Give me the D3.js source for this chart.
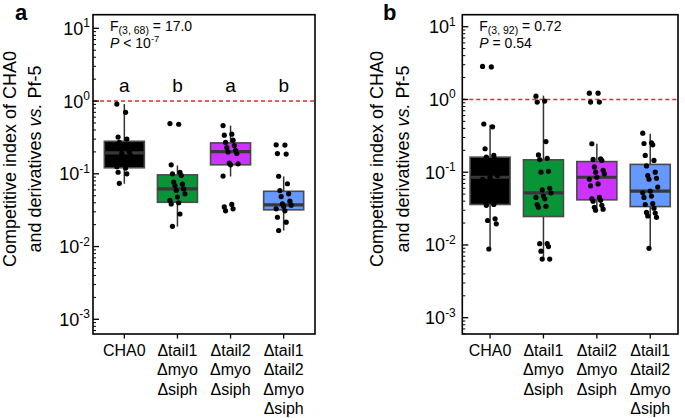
<!DOCTYPE html>
<html><head><meta charset="utf-8">
<script src="https://cdn.jsdelivr.net/npm/d3@7"></script>
<style>body{margin:0;background:#fff} svg{display:block} text{font-family:"Liberation Sans",Arial,Helvetica,sans-serif;fill:#000}</style>
</head><body><svg id="c" width="685" height="418"></svg>
<script>
// ---------- data ----------
const categories = ["CHA0", "Δtail1 Δmyo Δsiph", "Δtail2 Δmyo Δsiph", "Δtail1 Δtail2 Δmyo Δsiph"];
const categoryLines = [["CHA0"], ["Δtail1","Δmyo","Δsiph"], ["Δtail2","Δmyo","Δsiph"], ["Δtail1","Δtail2","Δmyo","Δsiph"]];
const colors = ["#000000", "#0a9438", "#cc33ff", "#6699ff"];
const yTickExponents = [1, 0, -1, -2, -3];
const letterGroupsA = ["a", "b", "a", "b"];

// Panel a points
const a_CHA0 = [0.91,0.70,0.32,0.30,0.27,0.25,0.22,0.20,0.19,0.18,0.17,0.15,0.14,0.125,0.12,0.105,0.10,0.074];
const a_tail1 = [0.49,0.48,0.133,0.105,0.10,0.095,0.077,0.072,0.069,0.062,0.059,0.053,0.048,0.043,0.040,0.0386,0.028,0.019];
const a_tail2 = [0.46,0.35,0.34,0.29,0.27,0.245,0.23,0.21,0.20,0.19,0.14,0.137,0.133,0.093,0.038,0.035,0.033,0.031];
const a_tail12 = [0.25,0.248,0.19,0.187,0.0925,0.073,0.0589,0.053,0.0487,0.042,0.0386,0.037,0.0356,0.033,0.031,0.0253,0.0216,0.0166];
// Panel a box summaries (q1, median, q3, whisker low, whisker high)
const a_q1 = [0.121, 0.0406, 0.133, 0.032];
const a_med = [0.194, 0.062, 0.202, 0.0374];
const a_q3 = [0.28, 0.0967, 0.266, 0.0575];
const a_lo = [0.073, 0.0188, 0.0917, 0.0166];
const a_hi = [0.91, 0.13, 0.46, 0.092];

// Panel b points
const b_CHA0 = [2.84,2.80,0.46,0.42,0.21,0.17,0.161,0.15,0.13,0.12,0.10,0.09,0.085,0.08,0.07,0.06,0.05,0.04,0.036,0.035,0.0229,0.0217,0.0195,0.0088];
const b_tail1 = [1.11,0.95,0.92,0.264,0.173,0.155,0.149,0.103,0.10,0.06,0.057,0.052,0.047,0.045,0.043,0.036,0.034,0.033,0.0104,0.0104,0.0095,0.0082,0.0064,0.0064];
const b_tail2 = [1.22,1.22,0.92,0.92,0.246,0.153,0.15,0.145,0.118,0.106,0.10,0.095,0.085,0.08,0.069,0.065,0.045,0.043,0.041,0.04,0.035,0.033,0.031,0.03];
const b_tail12 = [0.344,0.254,0.248,0.238,0.17,0.145,0.122,0.10,0.09,0.0825,0.08,0.0625,0.055,0.052,0.047,0.045,0.037,0.036,0.032,0.028,0.0275,0.025,0.024,0.009];
const b_q1 = [0.036, 0.0246, 0.0417, 0.0337];
const b_med = [0.0853, 0.052, 0.0853, 0.0548];
const b_q3 = [0.161, 0.148, 0.14, 0.128];
const b_lo = [0.0088, 0.0064, 0.0314, 0.009];
const b_hi = [0.449, 1.13, 0.246, 0.337];

const panels = [
  {label:"a", left:93, right:315, top:14.7, bottom:334, logTop:1.187, logBottom:-3.202, pad:0.59, tickGap:3,
   series:[a_CHA0,a_tail1,a_tail2,a_tail12], q1:a_q1, med:a_med, q3:a_q3, lo:a_lo, hi:a_hi,
   stat1:["F","(3, 68)"," = 17.0"], stat2:["P"," < 10","-7"], letters:letterGroupsA, ylabX:15.5, panelX:15},
  {label:"b", left:462.3, right:678, top:14.7, bottom:334, logTop:1.165, logBottom:-3.224, pad:0.52, tickGap:6.5,
   series:[b_CHA0,b_tail1,b_tail2,b_tail12], q1:b_q1, med:b_med, q3:b_q3, lo:b_lo, hi:b_hi,
   stat1:["F","(3, 92)"," = 0.72"], stat2:["P"," = 0.54",""], letters:null, ylabX:383, panelX:383}
];

const svg = d3.select("#c");
const jit = i => ((i * 7) % 13 - 6) * 1.25;

panels.forEach(p => {
  const g = svg.append("g");
  const y = d3.scaleLog().domain([Math.pow(10,p.logBottom), Math.pow(10,p.logTop)]).range([p.bottom, p.top]);
  const x = d3.scalePoint().domain(categories).range([p.left, p.right]).padding(p.pad);
  const bw = 40;

  // red dashed reference line at 1
  g.append("line").attr("x1", p.left).attr("x2", p.right).attr("y1", y(1)).attr("y2", y(1))
    .attr("stroke", "#e8262a").attr("stroke-width", 1.6).attr("stroke-dasharray", "4,3");

  categories.forEach((c, i) => {
    const cx = x(c);
    g.append("line").attr("x1", cx).attr("x2", cx).attr("y1", y(p.hi[i])).attr("y2", y(p.q3[i]))
      .attr("stroke", "#333").attr("stroke-width", 1.5);
    g.append("line").attr("x1", cx).attr("x2", cx).attr("y1", y(p.q1[i])).attr("y2", y(p.lo[i]))
      .attr("stroke", "#333").attr("stroke-width", 1.5);
    g.append("rect").attr("x", cx - bw/2).attr("width", bw)
      .attr("y", y(p.q3[i])).attr("height", y(p.q1[i]) - y(p.q3[i]))
      .attr("fill", colors[i]).attr("stroke", "#4a4a4a").attr("stroke-width", 1.6);
    g.append("line").attr("x1", cx - bw/2).attr("x2", cx + bw/2).attr("y1", y(p.med[i])).attr("y2", y(p.med[i]))
      .attr("stroke", "#383838").attr("stroke-width", 3.2);
    g.selectAll(null).data(p.series[i]).enter().append("circle")
      .attr("cx", (d, j) => cx + jit(j)).attr("cy", d => y(d)).attr("r", 2.6).attr("fill", "#000");
    if (p.letters) {
      g.append("text").attr("x", cx).attr("y", 91.5).attr("text-anchor", "middle")
        .attr("font-size", 19).text(p.letters[i]);
    }
  });

  // frame
  g.append("rect").attr("x", p.left).attr("y", p.top).attr("width", p.right - p.left).attr("height", p.bottom - p.top)
    .attr("fill", "none").attr("stroke", "#000").attr("stroke-width", 1.6);

  // y ticks (inward)
  const minor = [];
  for (let k = -4; k <= 1; k++) for (let m = 2; m <= 9; m++) {
    const v = m * Math.pow(10, k);
    if (Math.log10(v) > p.logBottom && Math.log10(v) < p.logTop) minor.push(v);
  }
  g.selectAll(null).data(minor).enter().append("line")
    .attr("x1", p.left).attr("x2", p.left + 3).attr("y1", d => y(d)).attr("y2", d => y(d))
    .attr("stroke", "#000").attr("stroke-width", 1);
  yTickExponents.forEach(e => {
    const yy = y(Math.pow(10, e));
    g.append("line").attr("x1", p.left).attr("x2", p.left + 6).attr("y1", yy).attr("y2", yy)
      .attr("stroke", "#000").attr("stroke-width", 1.3);
    const t = g.append("text").attr("x", p.left - p.tickGap).attr("y", yy + 6.5).attr("text-anchor", "end").attr("font-size", 18);
    t.append("tspan").text("10");
    t.append("tspan").attr("dy", -7.5).attr("font-size", 12).text(String(e));
  });

  // x ticks (outward) and labels
  categories.forEach((c, i) => {
    const cx = x(c);
    g.append("line").attr("x1", cx).attr("x2", cx).attr("y1", p.bottom).attr("y2", p.bottom + 4.5)
      .attr("stroke", "#000").attr("stroke-width", 1.3);
    const t = g.append("text").attr("text-anchor", "middle").attr("font-size", 16);
    categoryLines[i].forEach((ln, k) => {
      t.append("tspan").attr("x", cx).attr("y", 355.5 + k * 19.5).text(ln);
    });
  });

  // stats text
  const s1 = g.append("text").attr("x", p.left + 17).attr("y", 30.5).attr("font-size", 14);
  s1.append("tspan").text(p.stat1[0]);
  s1.append("tspan").attr("dy", 3.5).attr("font-size", 10.5).text(p.stat1[1]);
  s1.append("tspan").attr("dy", -3.5).text(p.stat1[2]);
  const s2 = g.append("text").attr("x", p.left + 17).attr("y", 47.5).attr("font-size", 14);
  s2.append("tspan").attr("font-style", "italic").text(p.stat2[0]);
  s2.append("tspan").text(p.stat2[1]);
  if (p.stat2[2]) s2.append("tspan").attr("dy", -5.5).attr("font-size", 9.5).text(p.stat2[2]);

  // y-axis label
  const cy = 159;
  g.append("text").attr("transform", `translate(${p.ylabX},${cy}) rotate(-90)`).attr("text-anchor", "middle")
    .attr("font-size", 18).text("Competitive index of CHA0");
  const l2 = g.append("text").attr("transform", `translate(${p.ylabX + 25.5},${cy}) rotate(-90)`).attr("text-anchor", "middle")
    .attr("font-size", 18);
  l2.append("tspan").text("and derivatives ");
  l2.append("tspan").attr("font-style", "italic").text("vs.");
  l2.append("tspan").text(" Pf-5");

  // panel letter
  g.append("text").attr("x", p.panelX).attr("y", 19.5).attr("font-size", 22).attr("font-weight", "bold").text(p.label);
});
</script></body></html>
